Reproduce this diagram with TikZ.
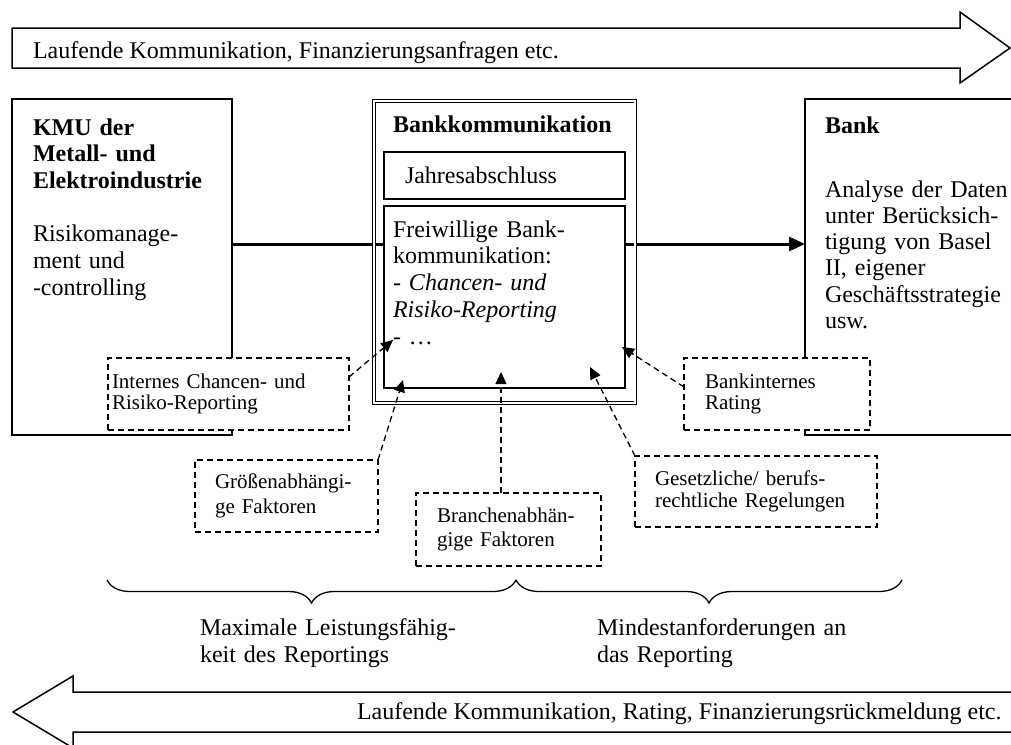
\documentclass[tikz,border=0pt]{standalone}
\usepackage{fontspec}
\setmainfont{Liberation Serif}
\usetikzlibrary{arrows.meta,decorations.pathreplacing}
\begin{document}
\begin{tikzpicture}[x=1pt,y=-1pt,
  every node/.style={inner sep=0pt, outer sep=0pt},
  big/.style={font=\fontsize{24}{26.7}\selectfont},
  oneline/.style={big, anchor=base west},
  para/.style={anchor=base west, align=left, text width=#1},
  para/.default=320pt,
  frame/.style={draw, line width=1.5pt},
  flowarrow/.style={draw, line width=1.5pt, line join=miter},
  innerbox/.style={draw, line width=1.8pt, fill=white, minimum width=241pt},
  dbox/.style={draw, line width=1.3pt, dash pattern=on 6pt off 4pt, fill=white,
    anchor=center, align=left},
  darr/.style={line width=1.3pt, dash pattern=on 6pt off 4pt,
    -{Triangle[length=12pt,width=11pt]}},
  mainarr/.style={line width=3pt, -{Triangle[length=16pt,width=14pt]}},
  bracedeco/.style={decorate, decoration={brace, amplitude=23pt}, line width=1.3pt}
]
\clip (0,0) rectangle (1011,744);

% information flow to the bank (top) and back (bottom)
\draw[flowarrow] (12,28) -- (960,28) -- (960,12) -- (1010,48) -- (960,83)
  -- (960,68) -- (12,68) -- cycle;
\node[oneline] (toptxt) at (33,58) {Laufende Kommunikation, Finanzierungsanfragen etc.};

\draw[flowarrow] (1020,692) -- (73,692) -- (73,676) -- (13,712) -- (73,748)
  -- (73,732) -- (1020,732);
\node[oneline] (bottxt) at (357,719) {Laufende Kommunikation, Rating, Finanzierungsrückmeldung etc.};

% company and bank
\node[frame, minimum width=220pt, minimum height=336pt] (kmu) at (122,267) {};
\node[frame, minimum width=235pt, minimum height=336pt] (bank) at (922.5,267) {};
\node[para=205pt, big] (kmutxt) at (33,135)
  {\textbf{KMU der}\\\textbf{Metall- und}\\\textbf{Elektroindustrie}\\[26.7pt]Risikomanage-\\ment und\\-controlling};
\node[oneline] (banktitle) at (825,133) {\textbf{Bank}};
\node[para=190pt, font=\fontsize{24}{26.3}\selectfont] (banktxt) at (825,197)
  {Analyse der Daten\\unter Berücksich-\\tigung von Basel\\II, eigener\\Geschäftsstrategie\\usw.};

% reporting channel between company and bank
\coordinate (arr) at (0,244);
\draw[mainarr] (kmu.east |- arr) -- (bank.west |- arr);

\node[draw, double, line width=0.9pt, double distance=1.8pt,
  minimum width=261.6pt, minimum height=301.5pt] (bk) at (504.5,252) {};
\node[oneline] (bktitle) at (393,132) {\textbf{Bankkommunikation}};
\node[innerbox, minimum height=47pt] (jahr) at (504.5,175.5) {};
\node[oneline] (jahrtxt) at (405,183) {Jahresabschluss};
\node[innerbox, minimum height=182pt] (frei) at (504.5,297) {};
\node[para=225pt, font=\fontsize{24}{26.75}\selectfont] (freitxt) at (393,237)
  {Freiwillige Bank-\\kommunikation:\\- \textit{Chancen- und}\\\textit{Risiko-Reporting}\\- …};

% influencing factors
\node[dbox, minimum width=241pt, minimum height=72pt, text width=233pt, inner xsep=4pt,
  font=\fontsize{21}{20.5}\selectfont] (intern) at (228.5,394)
  {Internes Chancen- und\\Risiko-Reporting};
\node[dbox, minimum width=186pt, minimum height=72pt, text width=144pt, inner xsep=21pt,
  font=\fontsize{21}{20.5}\selectfont] (bankint) at (777,394)
  {Bankinternes\\Rating};
\node[dbox, minimum width=183pt, minimum height=72pt, text width=143pt, inner xsep=20pt,
  font=\fontsize{21}{25}\selectfont] (groessen) at (286.5,496)
  {Größenabhängi-\\ge Faktoren};
\node[dbox, minimum width=185pt, minimum height=73pt, text width=143pt, inner xsep=21pt,
  font=\fontsize{21}{24}\selectfont] (branchen) at (508.5,529.5)
  {Branchenabhän-\\gige Faktoren};
\node[dbox, minimum width=242pt, minimum height=71pt, text width=202pt, inner xsep=20pt,
  font=\fontsize{21}{22}\selectfont] (gesetz) at (756,491.5)
  {Gesetzliche/ berufs-\\rechtliche Regelungen};

\coordinate (t1) at (393,340);
\coordinate (t2) at (403,380);
\coordinate (t3) at (501,372);
\coordinate (t4) at (590,367);
\coordinate (t5) at (622,347);
\draw[darr] ([yshift=17pt]intern.east) -- (t1);
\draw[darr] (groessen.north east) -- (t2);
\draw[darr] (branchen.north -| t3) -- (t3);
\draw[darr] (gesetz.north west) -- (t4);
\draw[darr] ([yshift=7pt]bankint.west) -- (t5);

% reporting range
\coordinate (b1) at (107,580);
\coordinate (b2) at (516,580);
\coordinate (b3) at (902,580);
\draw[bracedeco] (b2) -- (b1);
\draw[bracedeco] (b3) -- (b2);
\node[para, font=\fontsize{24}{27}\selectfont] (maxtxt) at (200,635)
  {Maximale Leistungsfähig-\\keit des Reportings};
\node[para, font=\fontsize{24}{27}\selectfont] (mintxt) at (597,635)
  {Mindestanforderungen an\\das Reporting};
\end{tikzpicture}
\end{document}
